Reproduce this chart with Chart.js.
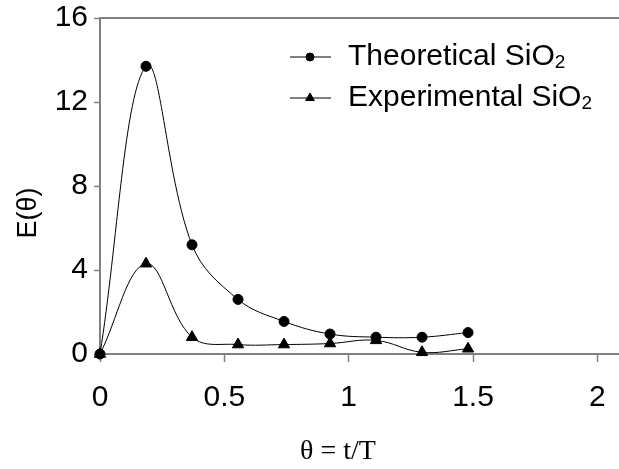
<!DOCTYPE html>
<html>
<head>
<meta charset="utf-8">
<script src="https://cdn.jsdelivr.net/npm/chart.js@4/dist/chart.umd.min.js"></script>
<style>
  html, body { margin: 0; padding: 0; background: #fff; }
  canvas { display: block; }
</style>
</head>
<body>
<canvas id="c" width="619" height="469"></canvas>
<script>
// Dimensionless time θ = t/T at which E(θ) was evaluated / measured
const theta = [0, 0.185, 0.37, 0.555, 0.74, 0.925, 1.11, 1.295, 1.48];
// Residence-time distribution E(θ)
const theoretical = [0, 13.7, 5.2, 2.6, 1.55, 0.95, 0.8, 0.8, 1.02];
const experimental = [0, 4.3, 0.8, 0.45, 0.45, 0.5, 0.65, 0.08, 0.25];
// Axis ticks and labels
const xTicks = [0, 0.5, 1, 1.5, 2];
const yTicks = [0, 4, 8, 12, 16];
const seriesNames = ['Theoretical SiO₂', 'Experimental SiO₂'];
const seriesMarkers = ['circle', 'triangle'];
const xTitle = 'θ = t/T';
const yTitle = 'E(θ)';

const SANS = '"Liberation Sans", Arial, sans-serif';
const SERIF = '"Liberation Serif", "Times New Roman", serif';
const AXIS_GREY = '#808080';

function toPoints(xs, ys) {
  return xs.map((x, i) => ({ x: x, y: ys[i] }));
}

// Draws text where subscript digits (₀-₉) are rendered as smaller, lowered digits
function drawRichText(ctx, text, x, y, size) {
  const subs = '₀₁₂₃₄₅₆₇₈₉';
  let cx = x;
  let buf = '';
  const flush = () => {
    if (!buf) return;
    ctx.font = size + 'px ' + SANS;
    ctx.fillText(buf, cx, y);
    cx += ctx.measureText(buf).width;
    buf = '';
  };
  for (const ch of text) {
    const k = subs.indexOf(ch);
    if (k >= 0) {
      flush();
      const s = String(k);
      ctx.font = Math.round(size * 0.63) + 'px ' + SANS;
      ctx.fillText(s, cx, y + size * 0.2);
      cx += ctx.measureText(s).width;
    } else {
      buf += ch;
    }
  }
  flush();
}

// Frame line on top, legend box and the two axis titles
const decorations = {
  id: 'decorations',
  afterDraw(chart) {
    const ctx = chart.ctx;
    const area = chart.chartArea;
    ctx.save();

    ctx.strokeStyle = AXIS_GREY;
    ctx.lineWidth = 2;
    ctx.beginPath();
    ctx.moveTo(area.left, area.top);
    ctx.lineTo(area.right, area.top);
    ctx.stroke();

    ctx.fillStyle = '#000';
    ctx.textBaseline = 'middle';
    ctx.textAlign = 'left';
    chart.data.datasets.forEach((ds, i) => {
      const y = 57 + i * 41;
      ctx.strokeStyle = '#000';
      ctx.lineWidth = 1;
      ctx.beginPath();
      ctx.moveTo(290, y);
      ctx.lineTo(331, y);
      ctx.stroke();
      Chart.helpers.drawPoint(ctx, {
        pointStyle: ds.pointStyle,
        radius: ds.pointStyle === 'triangle' ? 5 : 4,
        borderWidth: 1
      }, 310, y);
      ctx.fillStyle = '#000';
      ctx.strokeStyle = '#000';
      drawRichText(ctx, ds.label, 348, y, 30);
    });

    ctx.fillStyle = '#000';
    ctx.textAlign = 'center';
    ctx.textBaseline = 'middle';
    ctx.font = '28px ' + SERIF;
    ctx.fillText(xTitle, 338, 452);

    ctx.save();
    ctx.translate(29, 213);
    ctx.rotate(-Math.PI / 2);
    ctx.font = '27px ' + SANS;
    ctx.fillText(yTitle, 0, 0);
    ctx.restore();

    ctx.restore();
  }
};

const lineStyle = (label, ys, marker, r) => ({
  label: label,
  data: toPoints(theta, ys),
  borderColor: '#000',
  borderWidth: 1,
  backgroundColor: '#000',
  pointStyle: marker,
  pointRadius: r,
  pointHoverRadius: r,
  pointBackgroundColor: '#000',
  pointBorderColor: '#000',
  pointBorderWidth: 1,
  tension: 0.38,
  fill: false,
  clip: false
});

new Chart(document.getElementById('c'), {
  type: 'line',
  data: {
    datasets: [
      lineStyle(seriesNames[0], theoretical, seriesMarkers[0], 5),
      lineStyle(seriesNames[1], experimental, seriesMarkers[1], 6.5)
    ]
  },
  options: {
    responsive: false,
    devicePixelRatio: 1,
    animation: false,
    events: [],
    layout: { autoPadding: false, padding: { top: 18, right: 0, bottom: 0, left: 0 } },
    plugins: {
      legend: { display: false },
      tooltip: { enabled: false },
      title: { display: false }
    },
    scales: {
      x: {
        type: 'linear',
        min: 0,
        max: 2.087,
        afterBuildTicks: (s) => { s.ticks = xTicks.map(v => ({ value: v })); },
        afterFit: (s) => { s.height = 115; s.paddingLeft = 0; s.paddingRight = 0; },
        grid: {
          drawOnChartArea: false,
          tickLength: 8,
          tickColor: AXIS_GREY,
          tickWidth: 1.5
        },
        border: { color: AXIS_GREY, width: 2 },
        ticks: {
          padding: 18,
          color: '#000',
          font: { family: SANS, size: 30 },
          maxRotation: 0,
          callback: (v) => String(v)
        }
      },
      y: {
        type: 'linear',
        min: 0,
        max: 16,
        afterBuildTicks: (s) => { s.ticks = yTicks.map(v => ({ value: v })); },
        afterFit: (s) => { s.width = 100; s.paddingTop = 0; s.paddingBottom = 0; },
        grid: {
          drawOnChartArea: false,
          tickLength: 6,
          tickColor: AXIS_GREY,
          tickWidth: 1.5
        },
        border: { color: AXIS_GREY, width: 2 },
        ticks: {
          padding: 6,
          color: '#000',
          font: { family: SANS, size: 30 },
          callback: (v) => String(v)
        }
      }
    }
  },
  plugins: [decorations]
});
</script>
</body>
</html>
